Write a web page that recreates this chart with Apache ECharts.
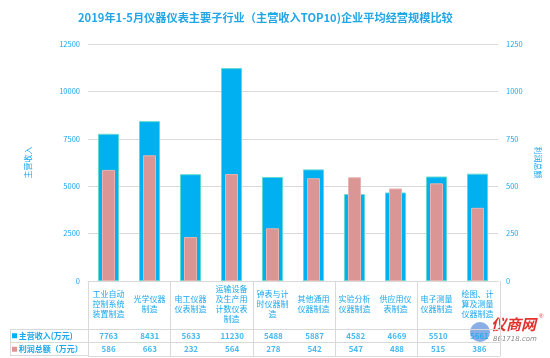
<!DOCTYPE html>
<html>
<head>
<meta charset="utf-8">
<script src="https://cdn.jsdelivr.net/npm/echarts@6/dist/echarts.min.js"></script>
<style>html,body{margin:0;padding:0;background:#fff}#c{width:550px;height:358px}</style>
</head>
<body>
<div id="c"></div>
<script>
var categories = ['工业自动\n控制系统\n装置制造','光学仪器\n制造','电工仪器\n仪表制造','运输设备\n及生产用\n计数仪表\n制造','钟表与计\n时仪器制\n造','其他通用\n仪器制造','实验分析\n仪器制造','供应用仪\n表制造','电子测量\n仪器制造','绘图、计\n算及测量\n仪器制造'];
var revenue = [7763, 8431, 5633, 11230, 5488, 5887, 4582, 4669, 5510, 5661];
var profit = [586, 663, 232, 564, 278, 542, 547, 488, 515, 386];
var rowNames = ['主营收入(万元)', '利润总额（万元）'];
var leftTicks = {min: 0, max: 12500, interval: 2500};
var rightTicks = {min: 0, max: 1250, interval: 250};

var BLUE = '#00B0F0', PINK = '#D99694', TXT = '#1AA7EC', LINE = '#d9d9d9';
var FONT = '"Noto Sans CJK SC","Noto Sans",sans-serif';

var chart = echarts.init(document.getElementById('c'));
var cellData = [];
revenue.forEach(function(v, i){ cellData.push([i, 0, v]); });
profit.forEach(function(v, i){ cellData.push([i, 1, v]); });
function plain(v){ return String(v); }

chart.setOption({
  animation: false,
  textStyle: {fontFamily: FONT},
  title: {
    text: '2019年1-5月仪器仪表主要子行业（主营收入TOP10)企业平均经营规模比较',
    left: 73, top: 7,
    textStyle: {fontSize: 11.2, fontWeight: 'bold', color: '#22A6E6', fontFamily: FONT}
  },
  grid: [
    {left: 88, right: 50, top: 44, height: 237},
    {left: 88, right: 50, top: 281, height: 75},
    {left: 88, right: 50, top: 329, height: 27}
  ],
  xAxis: [
    {type: 'category', gridIndex: 0, data: categories,
     axisLine: {lineStyle: {color: LINE}}, axisTick: {show: false},
     axisLabel: {color: TXT, fontSize: 8, lineHeight: 10, margin: 23, verticalAlign: 'middle', interval: 0}},
    {type: 'category', gridIndex: 0, data: categories, show: false},
    {type: 'category', gridIndex: 1, data: categories,
     axisLine: {show: false}, axisTick: {show: false}, axisLabel: {show: false},
     splitLine: {show: true, lineStyle: {color: LINE}}},
    {type: 'category', gridIndex: 2, data: categories, show: false}
  ],
  yAxis: [
    {type: 'value', gridIndex: 0, min: leftTicks.min, max: leftTicks.max, interval: leftTicks.interval,
     name: '主营收入', nameLocation: 'middle', nameGap: 56, nameRotate: 90,
     nameTextStyle: {color: TXT, fontSize: 8},
     axisLine: {show: false}, axisTick: {show: false},
     axisLabel: {color: TXT, fontSize: 7.5, margin: 8, formatter: plain},
     splitLine: {lineStyle: {color: LINE}}},
    {type: 'value', gridIndex: 0, position: 'right', min: rightTicks.min, max: rightTicks.max, interval: rightTicks.interval,
     name: '利润总额', nameLocation: 'middle', nameGap: 36, nameRotate: -90,
     nameTextStyle: {color: TXT, fontSize: 8},
     axisLine: {show: false}, axisTick: {show: false},
     axisLabel: {color: TXT, fontSize: 7.5, margin: 8, formatter: plain},
     splitLine: {show: false}},
    {type: 'value', gridIndex: 1, show: false},
    {type: 'category', gridIndex: 2, data: rowNames, inverse: true,
     axisLine: {show: false}, axisTick: {show: false},
     splitLine: {show: true, interval: 0, lineStyle: {color: LINE}},
     axisLabel: {align: 'left', margin: 76, color: TXT, fontSize: 8, fontWeight: 'bold',
       formatter: function(v, i){ return (i === 0 ? '{a|}' : '{b|}') + ' ' + v; },
       rich: {a: {width: 5, height: 5, backgroundColor: BLUE}, b: {width: 5, height: 5, backgroundColor: PINK}}}}
  ],
  series: [
    {type: 'bar', name: '主营收入', xAxisIndex: 0, yAxisIndex: 0, data: revenue, barWidth: 21,
     itemStyle: {color: BLUE, borderColor: '#62D8D2', borderWidth: 1}},
    {type: 'bar', name: '利润总额', xAxisIndex: 1, yAxisIndex: 1, data: profit, barWidth: 13,
     itemStyle: {color: PINK, borderColor: '#E8B4B2', borderWidth: 1}},
    {type: 'scatter', xAxisIndex: 3, yAxisIndex: 3, data: cellData, symbolSize: 1,
     itemStyle: {color: 'rgba(0,0,0,0)'}, silent: true,
     label: {show: true, position: 'inside', color: TXT, fontSize: 8, fontWeight: 'bold',
       formatter: function(p){ return p.data[2]; }}}
  ],
  graphic: [
    {type: 'line', shape: {x1: 10, y1: 329.5, x2: 88, y2: 329.5}, style: {stroke: LINE}},
    {type: 'line', shape: {x1: 10, y1: 342.5, x2: 88, y2: 342.5}, style: {stroke: LINE}},
    {type: 'line', shape: {x1: 10, y1: 355.5, x2: 88, y2: 355.5}, style: {stroke: LINE}},
    {type: 'line', shape: {x1: 10.5, y1: 329, x2: 10.5, y2: 356}, style: {stroke: LINE}},
    {type: 'circle', shape: {cx: 480, cy: 332, r: 10}, style: {fill: 'rgba(40,110,210,0.55)'}},
    {type: 'text', left: 491, top: 317, style: {text: '仪商网', fill: '#E2302C', font: 'bold italic 15px "Noto Sans CJK SC"'}},
    {type: 'text', left: 539, top: 313, style: {text: '®', fill: '#E2302C', font: '6px sans-serif'}},
    {type: 'text', left: 493, top: 336, style: {text: '861718.com', fill: '#8a8a8a', font: 'italic 7px "DejaVu Sans"'}}
  ]
});
</script>
</body>
</html>
